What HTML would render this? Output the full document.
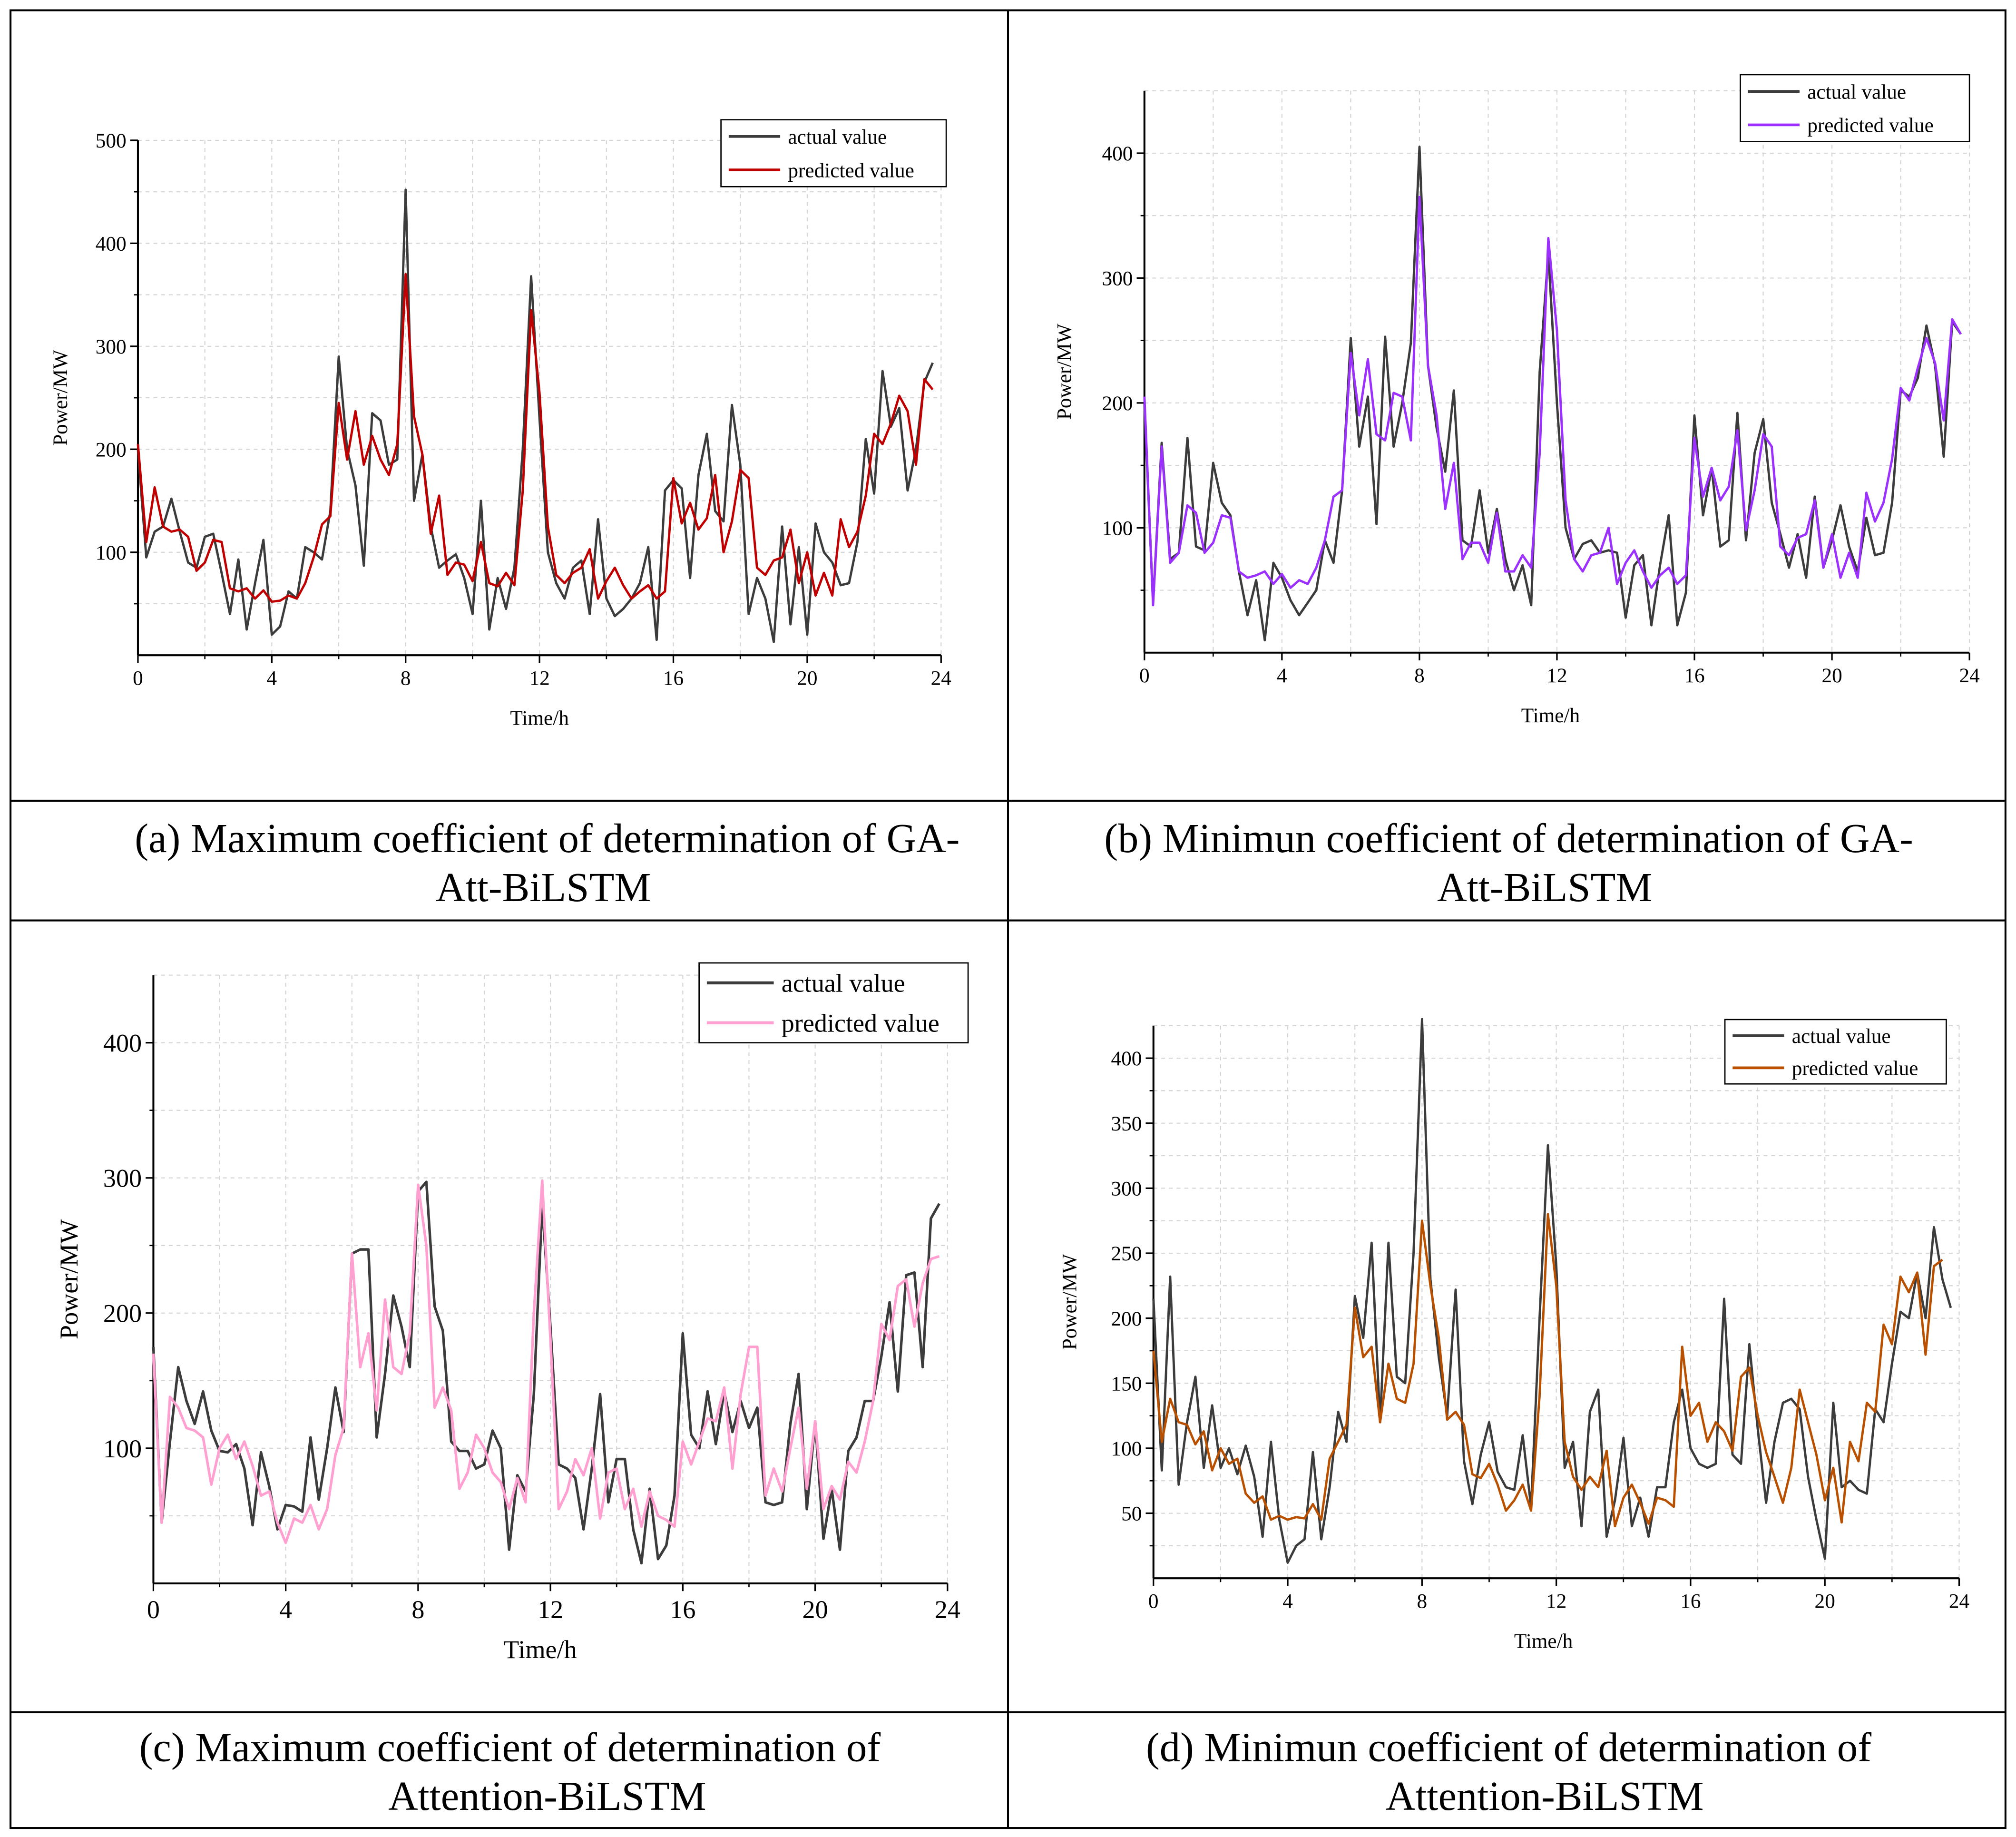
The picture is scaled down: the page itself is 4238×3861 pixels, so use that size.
<!DOCTYPE html>
<html><head><meta charset="utf-8"><style>html,body{margin:0;padding:0;background:#fff}svg{display:block}</style></head>
<body>
<svg id="root" xmlns="http://www.w3.org/2000/svg" width="4238" height="3861" viewBox="0 0 1566 1427" font-family="'Liberation Serif', serif">
<rect x="0" y="0" width="1566" height="1427" fill="#fff"/>
<g stroke="#000" stroke-width="1.5" fill="none">
<rect x="8" y="8" width="1550" height="1412"/>
<line x1="783" y1="8" x2="783" y2="1420"/>
<line x1="8" y1="622" x2="1558" y2="622"/>
<line x1="8" y1="715" x2="1558" y2="715"/>
<line x1="8" y1="1330" x2="1558" y2="1330"/>
</g>
<g font-size="32" text-anchor="middle" fill="#000" style="white-space:pre" xml:space="preserve">
<text x="425" y="662">(a)  Maximum coefficient of determination of GA-</text>
<text x="422" y="700">Att-BiLSTM</text>
<text x="1172" y="662">(b)  Minimun coefficient of determination of  GA-</text>
<text x="1200" y="700">Att-BiLSTM</text>
<text x="396" y="1368">(c)  Maximum coefficient of determination of</text>
<text x="425" y="1406">Attention-BiLSTM</text>
<text x="1172" y="1368">(d)  Minimun coefficient of determination of</text>
<text x="1200" y="1406">Attention-BiLSTM</text>
</g>
</svg>
<script>
const xTicks=[0,4,8,12,16,20,24];
const aActual=[200,95,120,125,152,120,90,85,115,118,80,40,93,25,70,112,20,28,62,55,105,100,93,140,290,200,165,87,235,228,185,190,452,150,195,125,85,92,98,75,40,150,25,75,45,85,200,368,230,100,70,55,85,92,40,132,55,38,45,55,70,105,15,160,170,162,75,175,215,140,130,243,185,40,75,55,13,125,30,105,20,128,100,90,68,70,110,210,157,276,222,240,160,200,265,284];
const aPred=[205,110,163,125,120,122,115,82,90,112,110,65,62,65,55,63,52,53,58,55,70,95,127,135,245,190,237,185,213,190,175,205,370,232,195,118,155,78,90,88,72,110,70,67,80,68,160,335,255,125,78,70,80,85,103,55,72,85,68,55,62,68,55,62,172,128,148,122,133,175,100,130,180,172,85,78,92,95,122,70,100,58,80,58,132,105,120,155,215,205,225,252,237,185,268,258];
const bActual=[200,40,168,75,80,172,85,82,152,120,110,65,30,58,10,72,60,42,30,40,50,90,72,130,252,165,205,103,253,165,200,248,405,230,180,145,210,90,85,130,80,115,75,50,70,38,225,320,200,100,75,87,90,80,82,80,28,70,78,22,70,110,22,48,190,110,148,85,90,192,90,160,187,120,95,68,95,60,125,68,90,118,85,65,108,78,80,120,210,205,220,262,230,157,265,255];
const bPred=[205,38,165,72,80,118,112,80,88,110,108,65,60,62,65,55,63,52,58,55,68,90,125,130,240,190,235,175,170,208,205,170,365,230,190,115,152,75,88,88,72,112,65,65,78,68,160,332,258,122,75,65,78,80,100,55,72,82,65,52,62,68,55,62,172,125,148,122,133,178,98,130,175,165,85,78,92,95,122,68,95,60,80,60,128,105,120,155,212,202,228,252,232,186,267,255];
const cActual=[175,45,105,160,135,118,142,113,98,97,103,85,43,97,72,40,58,57,53,108,62,100,145,112,244,247,247,108,155,213,190,160,290,297,205,187,105,98,98,85,88,113,100,25,80,68,140,280,190,88,85,78,40,85,140,60,92,92,40,15,70,18,28,65,185,110,100,142,103,142,112,135,115,130,60,58,60,118,155,55,120,33,70,25,98,108,135,135,168,208,142,228,230,160,270,281];
const cPred=[170,45,138,130,115,113,108,73,100,110,92,105,87,65,68,45,30,48,45,58,40,55,95,115,244,160,185,128,210,160,155,185,295,250,130,145,128,70,82,110,100,82,75,55,78,60,200,298,180,55,68,92,80,100,48,82,85,55,70,42,68,50,47,42,105,88,105,122,120,145,85,140,175,175,65,85,68,100,130,70,120,55,72,62,90,82,105,135,192,180,220,225,190,222,240,242];
const dActual=[215,83,232,72,120,155,85,133,85,100,80,102,78,32,105,45,12,25,30,97,30,70,128,105,217,185,258,120,258,155,150,250,430,230,170,125,222,90,57,95,120,82,70,68,110,55,200,333,240,85,105,40,128,145,32,60,108,40,62,32,70,70,120,145,100,88,85,88,215,95,88,180,115,58,105,135,138,130,78,45,15,135,70,75,68,65,130,120,165,205,200,235,200,270,230,208];
const dPred=[175,105,138,120,118,103,113,83,100,88,92,65,58,63,45,48,45,47,46,57,45,92,105,118,208,170,178,120,165,138,135,165,275,225,185,122,128,118,80,77,88,72,52,60,72,52,140,280,225,105,78,68,78,70,98,40,62,72,58,42,62,60,55,178,125,135,105,120,113,98,155,162,125,97,78,58,85,145,120,95,60,85,43,105,90,135,128,195,180,232,220,235,172,240,245];
const aYTicks=[100,200,300,400,500];
const bYTicks=[100,200,300,400];
const cYTicks=[100,200,300,400];
const dYTicks=[50,100,150,200,250,300,350,400];
const timeStep=0.25;

const NS='http://www.w3.org/2000/svg';
const root=document.getElementById('root');
function mk(tag,attrs,parent,txt){const e=document.createElementNS(NS,tag);for(const k in attrs)e.setAttribute(k,attrs[k]);if(txt!==undefined)e.textContent=txt;parent.appendChild(e);return e;}

function chart(id,cfg,actual,pred,yTicks){
  const g=mk('g',{},root);
  
  
  const X=t=>cfg.x0+(cfg.x1-cfg.x0)*t/24;
  const Y=v=>cfg.y0-(cfg.y0-cfg.y100)*v/100;
  const top=Y(cfg.ymax);
  for(let t=2;t<=24;t+=2){const l=mk('line',{x1:X(t),x2:X(t),y1:top,y2:cfg.y0,stroke:'#d4d4d4','stroke-width':0.8,'stroke-dasharray':'3,3'},g);}
  const step=yTicks[1]-yTicks[0];
  for(let v=step/2;v<=cfg.ymax;v+=step/2){const l=mk('line',{x1:cfg.x0,x2:cfg.x1,y1:Y(v),y2:Y(v),stroke:'#d4d4d4','stroke-width':0.8,'stroke-dasharray':'3,3'},g);}
  const ax=mk('line',{x1:cfg.x0,x2:cfg.x1,y1:cfg.y0,y2:cfg.y0,stroke:'#000','stroke-width':1.5},g);
  
  const ay=mk('line',{x1:cfg.x0,x2:cfg.x0,y1:top,y2:cfg.y0,stroke:'#000','stroke-width':1.5},g);
  
  xTicks.forEach(t=>{
    mk('line',{x1:X(t),x2:X(t),y1:cfg.y0,y2:cfg.y0+6,stroke:'#000','stroke-width':1.2},g);
    if(t<24) mk('line',{x1:X(t+2),x2:X(t+2),y1:cfg.y0,y2:cfg.y0+3,stroke:'#000','stroke-width':1},g);
    const tx=mk('text',{x:X(t),y:cfg.y0+cfg.fs+7,'font-size':cfg.fs,'text-anchor':'middle'},g,String(t));
    
  });
  yTicks.forEach(v=>{
    mk('line',{x1:cfg.x0-6,x2:cfg.x0,y1:Y(v),y2:Y(v),stroke:'#000','stroke-width':1.2},g);
    mk('line',{x1:cfg.x0-3,x2:cfg.x0,y1:Y(v-step/2),y2:Y(v-step/2),stroke:'#000','stroke-width':1},g);
    const ty=mk('text',{x:cfg.x0-9,y:Y(v)+cfg.fs*0.35,'font-size':cfg.fs,'text-anchor':'end'},g,String(v));
    
  });
  const xt=mk('text',{x:(cfg.x0+cfg.x1)/2+cfg.xtOff,y:cfg.y0+cfg.fs+38,'font-size':cfg.fs,'text-anchor':'middle'},g,'Time/h');
  
  const ytY=(top+cfg.y0)/2;
  const yt=mk('text',{x:cfg.ytx,y:ytY,'font-size':cfg.fs,'text-anchor':'middle',transform:`rotate(-90 ${cfg.ytx} ${ytY})`},g,'Power/MW');
  
  function series(arr,color,name){
    const pts=arr.map((v,i)=>X(i*timeStep).toFixed(1)+','+Y(v).toFixed(1)).join(' ');
    const p=mk('polyline',{points:pts,fill:'none',stroke:color,'stroke-width':cfg.lw,'stroke-linejoin':'round'},g);
    
  }
  series(actual,'#3c3c3c','actual-value-line');
  series(pred,cfg.pc,'predicted-value-line');
  const L=cfg.leg;
  const lg=mk('g',{},g);
  
  mk('rect',{x:L[0],y:L[1],width:L[2]-L[0],height:L[3]-L[1],fill:'#fff',stroke:'#000','stroke-width':1},lg);
  const rh=(L[3]-L[1])/2;
  [['actual value','#3c3c3c'],['predicted value',cfg.pc]].forEach((e,i)=>{
    const cy=L[1]+rh*(i+0.5);
    const eg=mk('g',{},lg);
    
    mk('line',{x1:L[0]+6,x2:L[0]+6+cfg.sw,y1:cy,y2:cy,stroke:e[1],'stroke-width':cfg.lw+0.3},eg);
    mk('text',{x:L[0]+12+cfg.sw,y:cy+cfg.lfs*0.35,'font-size':cfg.lfs},eg,e[0]);
  });
}
chart('chart-a',{x0:107,x1:731,y0:509,y100:429,ymax:500,fs:16,lfs:16,lw:1.8,pc:'#c00000',ytx:52,xtOff:0,leg:[560,93,735,145],sw:40},aActual,aPred,aYTicks);
chart('chart-b',{x0:889,x1:1530,y0:507,y100:410,ymax:450,fs:16,lfs:16,lw:1.8,pc:'#9b30ff',ytx:832,xtOff:-5,leg:[1352,58,1530,110],sw:40},bActual,bPred,bYTicks);
chart('chart-c',{x0:119,x1:736,y0:1230,y100:1125,ymax:450,fs:20,lfs:20,lw:2,pc:'#ffa0d0',ytx:60,xtOff:-8,leg:[543,748,752,810],sw:52},cActual,cPred,cYTicks);
chart('chart-d',{x0:896,x1:1522,y0:1226,y100:1125,ymax:425,fs:16,lfs:16,lw:1.8,pc:'#b85000',ytx:836,xtOff:-10,leg:[1340,792,1512,842],sw:40},dActual,dPred,dYTicks);
</script>
</body></html>
